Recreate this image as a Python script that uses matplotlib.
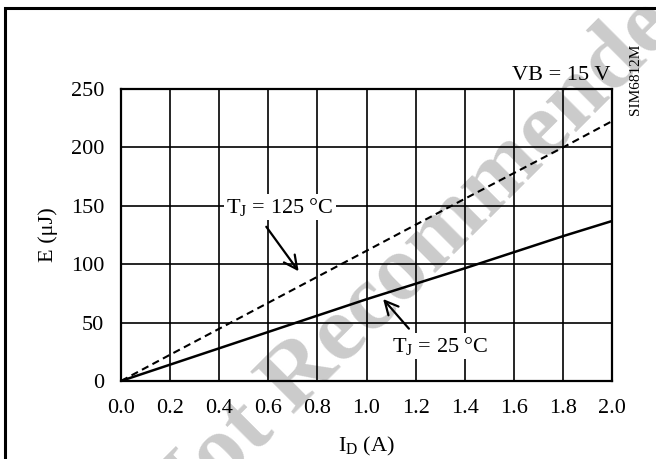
import matplotlib
matplotlib.use("Agg")
import matplotlib.pyplot as plt
from matplotlib.patches import Rectangle

plt.rcParams['font.family'] = ['Liberation Serif', 'DejaVu Serif']
plt.rcParams['mathtext.fontset'] = 'custom'
plt.rcParams['mathtext.rm'] = 'Liberation Serif'
plt.rcParams['mathtext.it'] = 'Liberation Serif:italic'

# Data
current_a = [0.0, 0.2, 0.6, 1.0, 1.4, 1.8, 2.0]
e_tj25 = [0.0, 14.0, 42.0, 70.0, 96.5, 124.0, 137.0]
e_tj125 = [0.0, 22.5, 67.0, 111.5, 156.0, 200.0, 222.5]
x_ticks = [0.0, 0.2, 0.4, 0.6, 0.8, 1.0, 1.2, 1.4, 1.6, 1.8, 2.0]
y_ticks = [0, 50, 100, 150, 200, 250]

fig = plt.figure(figsize=(6.56, 4.59), dpi=100)
ax = fig.add_axes([0.1845, 0.170, 0.7485, 0.636])
ax.set_zorder(2)
ax.patch.set_alpha(0)

fs = 16
ax.plot(current_a, e_tj125, color='black', lw=1.5, ls=(0, (3.5, 2.2)), zorder=3)
ax.plot(current_a, e_tj25, color='black', lw=1.8, zorder=3)

ax.set_xlim(0, 2.0)
ax.set_ylim(0, 250)
ax.set_xticks(x_ticks)
ax.set_xticklabels([f"{v:.1f}" for v in x_ticks])
ax.set_yticks(y_ticks)
ax.tick_params(length=0, labelsize=fs)
ax.tick_params(axis='x', pad=13)
ax.tick_params(axis='y', pad=12)
ax.grid(True, color='black', lw=1.2)
for s in ax.spines.values():
    s.set_linewidth(1.6)
    s.set_color('black')

ax.set_xlabel(r'I$_\mathregular{D}$ (A)', fontsize=fs, labelpad=12)
ax.set_ylabel(r'E (μJ)', fontsize=fs, labelpad=9)

bbox = dict(facecolor='white', edgecolor='none', pad=1.5)
ax.annotate('', xy=(0.73, 92), xytext=(0.585, 134),
            arrowprops=dict(arrowstyle='->', lw=1.6, color='black', mutation_scale=24))
ax.text(0.648, 149, r'T$_\mathregular{J}$ = 125 °C', fontsize=fs, ha='center', va='center', bbox=bbox, zorder=5)
ax.annotate('', xy=(1.06, 72), xytext=(1.18, 43),
            arrowprops=dict(arrowstyle='->', lw=1.6, color='black', mutation_scale=24))
ax.text(1.30, 30, r'T$_\mathregular{J}$ = 25 °C', fontsize=fs, ha='center', va='center', bbox=bbox, zorder=5)

fig.text(610/656, 1 - 75/459, 'VB = 15 V', fontsize=fs, ha='right', va='center', zorder=3)
fig.text(635/656, 1 - 79/459, 'SIM6812M', fontsize=11, ha='center', va='center', rotation=90, zorder=3)

# watermark
fig.text(428/656, 1 - 248/459, 'Not Recommended', fontsize=68, fontweight='bold',
         color='#cbcbcb', rotation=45, ha='center', va='center', zorder=0.5,
         rotation_mode='anchor')

# figure frame
fig.patches.append(Rectangle((5/656, -0.05), 1.2, 1 - 8/459 + 0.05, transform=fig.transFigure,
                             fill=False, edgecolor='black', lw=2.2, zorder=1))

fig.savefig('out.png', dpi=100)
